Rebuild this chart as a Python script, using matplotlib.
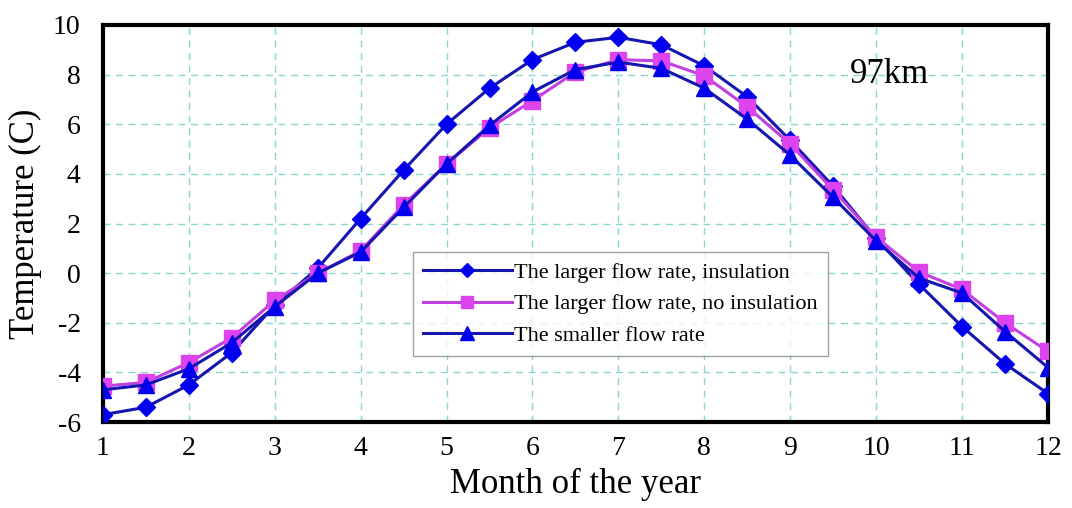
import matplotlib
matplotlib.use("Agg")
import matplotlib.pyplot as plt
import numpy as np

months = [1, 1.5, 2, 2.5, 3, 3.5, 4, 4.5, 5, 5.5, 6, 6.5, 7, 7.5, 8, 8.5, 9, 9.5, 10, 10.5, 11, 11.5, 12]
larger_insulation = [-5.7, -5.4, -4.5, -3.2, -1.3, 0.2, 2.2, 4.15, 6.0, 7.45, 8.6, 9.3, 9.5, 9.2, 8.35, 7.1, 5.35, 3.5, 1.4, -0.45, -2.15, -3.65, -4.85]
larger_no_insulation = [-4.55, -4.4, -3.6, -2.6, -1.1, 0.0, 0.9, 2.75, 4.4, 5.85, 6.95, 8.1, 8.6, 8.55, 7.95, 6.7, 5.2, 3.35, 1.45, 0.05, -0.65, -2.0, -3.15]
smaller_flow = [-4.7, -4.5, -3.85, -2.8, -1.35, 0.0, 0.85, 2.65, 4.4, 5.95, 7.3, 8.2, 8.5, 8.25, 7.45, 6.2, 4.75, 3.05, 1.3, -0.2, -0.8, -2.35, -3.8]
labels = ["The larger flow rate, insulation",
          "The larger flow rate, no insulation",
          "The smaller flow rate"]
xticks = list(range(1, 13))
yticks = list(range(-6, 11, 2))

plt.rcParams['font.family'] = ['Liberation Serif', 'DejaVu Serif']
plt.rcParams['axes.unicode_minus'] = False

fig = plt.figure(figsize=(10.72, 5.08), dpi=100)
ax = fig.add_axes([0.096, 0.169, 0.8816, 0.782])

ax.plot(months, larger_insulation, color='#1515b0', lw=2.2, marker='D', ms=9,
        mfc='#0000ee', mec='#0000ee', label=labels[0], zorder=3)
ax.plot(months, larger_no_insulation, color='#c040e0', lw=2.2, marker='s', ms=11,
        mfc='#dd44ee', mec='#dd44ee', label=labels[1], zorder=3)
ax.plot(months, smaller_flow, color='#1515b0', lw=2.2, marker='^', ms=12,
        mfc='#0000ee', mec='#0000ee', label=labels[2], zorder=4)

ax.set_xlim(1, 12)
ax.set_ylim(-6, 10)
ax.set_xticks(xticks)
ax.set_yticks(yticks)
ax.grid(True, color='#88d8d0', ls=(0, (5, 4)), lw=1.0)
ax.tick_params(direction='in', length=4, labelsize=20, color='#88d8d0')
ax.tick_params(axis='y', pad=16)
ax.tick_params(axis='x', pad=10)
for s in ax.spines.values():
    s.set_linewidth(3)
    s.set_color('black')

ax.set_xlabel('Month of the year', fontsize=25, labelpad=5)
ax.set_ylabel('Temperature (C)', fontsize=25, labelpad=8)
ax.text(10.16, 8.0, '97km', fontsize=25, ha='center', va='center')

leg = ax.legend(loc='upper left', bbox_to_anchor=(0.328, 0.428), fontsize=16,
                frameon=True, fancybox=False, edgecolor='#888888',
                handlelength=4.0, handletextpad=0.1, borderpad=0.45,
                labelspacing=0.5, markerscale=0.8, borderaxespad=0)
leg.get_frame().set_linewidth(1.0)

fig.savefig('out.png', dpi=100)
